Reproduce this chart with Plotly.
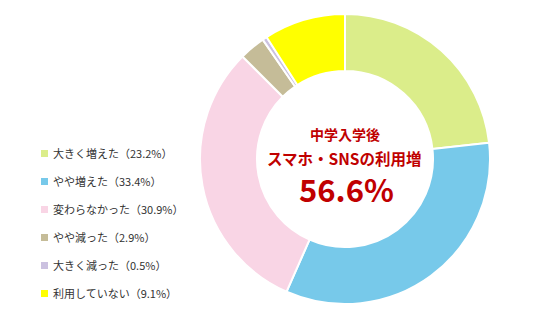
import plotly.graph_objects as go

labels = ["大きく増えた", "やや増えた", "変わらなかった", "やや減った", "大きく減った", "利用していない"]
values = [23.2, 33.4, 30.9, 2.9, 0.5, 9.1]
colors = ["#dbed8a", "#77c9ea", "#f9d5e5", "#c5bc98", "#cbc1e0", "#ffff00"]
center_lines = ["中学入学後", "スマホ・SNSの利用増"]
center_value = "56.6%"

W, H = 536, 322
fig = go.Figure()
fig.add_trace(go.Pie(
    labels=labels, values=values, sort=False, direction="clockwise", rotation=0,
    hole=0.607, textinfo="none", hoverinfo="label+percent",
    marker=dict(colors=colors, line=dict(color="white", width=2)),
    domain=dict(x=[(345 - 145) / W, (345 + 145) / W], y=[(163 - 145) / H, (163 + 145) / H]),
    showlegend=False,
))

font = "Noto Sans CJK JP, Noto Sans, sans-serif"
annotations = []
shapes = []
y0 = 153
step = 28
for i, (lab, val, col) in enumerate(zip(labels, values, colors)):
    y = y0 + i * step
    yp = 1 - y / H
    shapes.append(dict(type="rect", xref="paper", yref="paper",
                       x0=41 / W, x1=48 / W, y0=1 - (y + 4) / H, y1=1 - (y - 3) / H,
                       fillcolor=col, line=dict(width=0)))
    annotations.append(dict(x=51 / W, y=yp, xref="paper", yref="paper", xanchor="left", yanchor="middle",
                            text=f"{lab}（{val:.1f}%）", showarrow=False,
                            font=dict(family=font, size=11, color="#333333")))

red = "#c00000"
annotations.append(dict(x=345 / W, y=1 - 134 / H, xref="paper", yref="paper", showarrow=False,
                        text=f"<b>{center_lines[0]}</b>", font=dict(family=font, size=14, color=red)))
annotations.append(dict(x=344 / W, y=1 - 158 / H, xref="paper", yref="paper", showarrow=False,
                        text=f"<b>{center_lines[1]}</b>", font=dict(family=font, size=15.5, color=red)))
annotations.append(dict(x=346 / W, y=1 - 188 / H, xref="paper", yref="paper", showarrow=False,
                        text=f"<b>{center_value}</b>", font=dict(family=font, size=31, color=red)))

fig.update_layout(width=W, height=H, margin=dict(l=0, r=0, t=0, b=0),
                  paper_bgcolor="white", plot_bgcolor="white",
                  annotations=annotations, shapes=shapes)
fig.write_html("out.html")
